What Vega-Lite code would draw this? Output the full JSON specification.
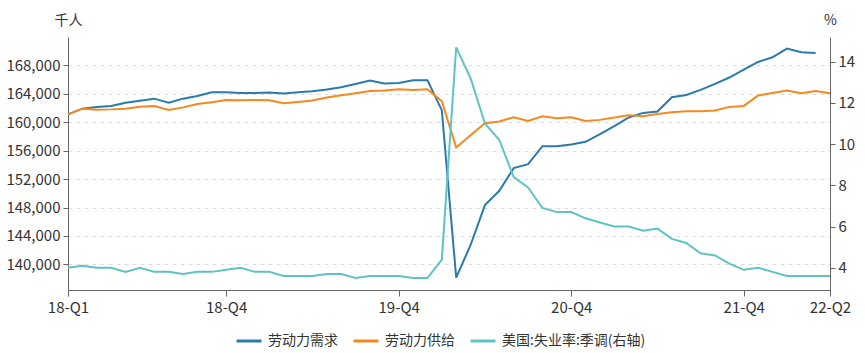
{
  "$schema": "https://vega.github.io/schema/vega-lite/v6.json",
  "width": 762,
  "height": 253,
  "autosize": {"type": "none"},
  "padding": {"left": 68, "top": 37, "right": 35, "bottom": 63},
  "background": "white",
  "config": {
    "font": "Noto Sans CJK SC",
    "view": {"stroke": null},
    "axis": {
      "domainColor": "#666666",
      "tickColor": "#666666",
      "labelColor": "#333333",
      "labelFontSize": 15,
      "labelFont": "Noto Sans CJK SC",
      "titleFont": "Noto Sans CJK SC",
      "titleFontWeight": "normal",
      "titleFontSize": 14,
      "titleColor": "#333333",
      "gridColor": "#dddddd",
      "gridDash": [4, 4]
    }
  },
  "data": {
    "values": [
      {"m": "2018-01", "劳动力需求": 161112, "劳动力供给": 161112, "u": 4.0},
      {"m": "2018-02", "劳动力需求": 161915, "劳动力供给": 161915, "u": 4.1},
      {"m": "2018-03", "劳动力需求": 162140, "劳动力供给": 161774, "u": 4.0},
      {"m": "2018-04", "劳动力需求": 162281, "劳动力供给": 161816, "u": 4.0},
      {"m": "2018-05", "劳动力需求": 162760, "劳动力供给": 161915, "u": 3.8},
      {"m": "2018-06", "劳动力需求": 163042, "劳动力供给": 162197, "u": 4.0},
      {"m": "2018-07", "劳动力需求": 163324, "劳动力供给": 162281, "u": 3.8},
      {"m": "2018-08", "劳动力需求": 162760, "劳动力供给": 161718, "u": 3.8},
      {"m": "2018-09", "劳动力需求": 163324, "劳动力供给": 162098, "u": 3.7},
      {"m": "2018-10", "劳动力需求": 163690, "劳动力供给": 162563, "u": 3.8},
      {"m": "2018-11", "劳动力需求": 164211, "劳动力供给": 162803, "u": 3.8},
      {"m": "2018-12", "劳动力需求": 164211, "劳动力供给": 163126, "u": 3.9},
      {"m": "2019-01", "劳动力需求": 164112, "劳动力供给": 163084, "u": 4.0},
      {"m": "2019-02", "劳动力需求": 164130, "劳动力供给": 163120, "u": 3.8},
      {"m": "2019-03", "劳动力需求": 164188, "劳动力供给": 163106, "u": 3.8},
      {"m": "2019-04", "劳动力需求": 164048, "劳动力供给": 162685, "u": 3.6},
      {"m": "2019-05", "劳动力需求": 164231, "劳动力供给": 162867, "u": 3.6},
      {"m": "2019-06", "劳动力需求": 164371, "劳动力供给": 163064, "u": 3.6},
      {"m": "2019-07", "劳动力需求": 164610, "劳动力供给": 163486, "u": 3.7},
      {"m": "2019-08", "劳动力需求": 164933, "劳动力供给": 163809, "u": 3.7},
      {"m": "2019-09", "劳动力需求": 165396, "劳动力供给": 164090, "u": 3.5},
      {"m": "2019-10", "劳动力需求": 165874, "劳动力供给": 164413, "u": 3.6},
      {"m": "2019-11", "劳动力需求": 165453, "劳动力供给": 164469, "u": 3.6},
      {"m": "2019-12", "劳动力需求": 165537, "劳动力供给": 164652, "u": 3.6},
      {"m": "2020-01", "劳动力需求": 165917, "劳动力供给": 164553, "u": 3.5},
      {"m": "2020-02", "劳动力需求": 165917, "劳动力供给": 164652, "u": 3.5},
      {"m": "2020-03", "劳动力需求": 161702, "劳动力供给": 162966, "u": 4.4},
      {"m": "2020-04", "劳动力需求": 138140, "劳动力供给": 156461, "u": 14.7},
      {"m": "2020-05", "劳动力需求": 142734, "劳动力供给": 158189, "u": 13.2},
      {"m": "2020-06", "劳动力需求": 148354, "劳动力供给": 159875, "u": 11.0},
      {"m": "2020-07", "劳动力需求": 150363, "劳动力供给": 160114, "u": 10.2},
      {"m": "2020-08", "劳动力需求": 153552, "劳动力供给": 160718, "u": 8.4},
      {"m": "2020-09", "劳动力需求": 154114, "劳动力供给": 160198, "u": 7.9},
      {"m": "2020-10", "劳动力需求": 156643, "劳动力供给": 160858, "u": 6.9},
      {"m": "2020-11", "劳动力需求": 156643, "劳动力供给": 160577, "u": 6.7},
      {"m": "2020-12", "劳动力需求": 156882, "劳动力供给": 160718, "u": 6.7},
      {"m": "2021-01", "劳动力需求": 157247, "劳动力供给": 160198, "u": 6.4},
      {"m": "2021-02", "劳动力需求": 158329, "劳动力供给": 160338, "u": 6.2},
      {"m": "2021-03", "劳动力需求": 159453, "劳动力供给": 160676, "u": 6.0},
      {"m": "2021-04", "劳动力需求": 160676, "劳动力供给": 160999, "u": 6.0},
      {"m": "2021-05", "劳动力需求": 161322, "劳动力供给": 160858, "u": 5.8},
      {"m": "2021-06", "劳动力需求": 161519, "劳动力供给": 161181, "u": 5.9},
      {"m": "2021-07", "劳动力需求": 163528, "劳动力供给": 161420, "u": 5.4},
      {"m": "2021-08", "劳动力需求": 163851, "劳动力供给": 161561, "u": 5.2},
      {"m": "2021-09", "劳动力需求": 164553, "劳动力供给": 161561, "u": 4.7},
      {"m": "2021-10", "劳动力需求": 165396, "劳动力供给": 161659, "u": 4.6},
      {"m": "2021-11", "劳动力需求": 166296, "劳动力供给": 162165, "u": 4.2},
      {"m": "2021-12", "劳动力需求": 167420, "劳动力供给": 162305, "u": 3.9},
      {"m": "2022-01", "劳动力需求": 168487, "劳动力供给": 163767, "u": 4.0},
      {"m": "2022-02", "劳动力需求": 169148, "劳动力供给": 164132, "u": 3.8},
      {"m": "2022-03", "劳动力需求": 170370, "劳动力供给": 164469, "u": 3.6},
      {"m": "2022-04", "劳动力需求": 169850, "劳动力供给": 164090, "u": 3.6},
      {"m": "2022-05", "劳动力需求": 169752, "劳动力供给": 164413, "u": 3.6},
      {"m": "2022-06", "劳动力需求": null, "劳动力供给": 164090, "u": 3.6}
    ]
  },
  "encoding": {
    "x": {
      "field": "m",
      "type": "ordinal",
      "scale": {"type": "point", "padding": 0},
      "axis": {
        "title": null,
        "values": ["2018-01", "2018-12", "2019-12", "2020-12", "2021-12", "2022-06"],
        "labelExpr": "slice(datum.value, 2, 4) + '-Q' + ceil(toNumber(slice(datum.value, 5, 7)) / 3)",
        "labelAngle": 0,
        "labelOverlap": false,
        "labelFlush": false,
        "labelBound": false,
        "grid": false,
        "tickSize": 6,
        "labelPadding": 4
      }
    }
  },
  "layer": [
    {
      "transform": [{"fold": ["劳动力需求", "劳动力供给"], "as": ["series", "value"]}],
      "mark": {"type": "line", "strokeWidth": 2},
      "encoding": {
        "y": {
          "field": "value",
          "type": "quantitative",
          "scale": {"domain": [136400, 172000], "nice": false, "zero": false},
          "axis": {
            "values": [140000, 144000, 148000, 152000, 156000, 160000, 164000, 168000],
            "format": ",.0f",
            "grid": true,
            "tickSize": 5,
            "labelPadding": 3,
            "title": "千人",
            "titleAngle": 0,
            "titleX": 0,
            "titleY": -17,
            "titleAlign": "center",
            "titleBaseline": "middle"
          }
        },
        "color": {
          "field": "series",
          "type": "nominal",
          "scale": {
            "domain": ["劳动力需求", "劳动力供给", "美国:失业率:季调(右轴)"],
            "range": ["#2a7aab", "#f5891f", "#5fc3c3"]
          },
          "legend": {
            "title": null,
            "orient": "none",
            "direction": "horizontal",
            "legendX": 167,
            "legendY": 290,
            "symbolType": "stroke",
            "symbolSize": 625,
            "symbolStrokeWidth": 3,
            "labelFontSize": 14,
            "labelColor": "#333333",
            "labelFont": "Noto Sans CJK SC",
            "labelOffset": 5,
            "columnPadding": 9
          }
        }
      }
    },
    {
      "mark": {"type": "line", "strokeWidth": 2},
      "encoding": {
        "y": {
          "field": "u",
          "type": "quantitative",
          "scale": {"domain": [2.92, 15.2], "nice": false, "zero": false},
          "axis": {
            "orient": "right",
            "values": [4, 6, 8, 10, 12, 14],
            "grid": false,
            "tickSize": 5,
            "labelPadding": 3,
            "title": "%",
            "titleAngle": 0,
            "titleX": 0,
            "titleY": -17,
            "titleAlign": "center",
            "titleBaseline": "middle"
          }
        },
        "color": {"datum": "美国:失业率:季调(右轴)", "type": "nominal"}
      }
    }
  ],
  "resolve": {"scale": {"y": "independent"}}
}
